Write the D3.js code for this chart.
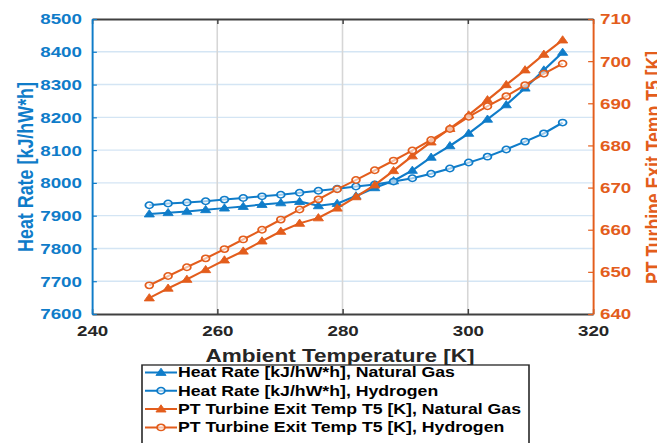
<!DOCTYPE html>
<html>
<head>
<meta charset="utf-8">
<script src="https://cdn.jsdelivr.net/npm/d3@7"></script>
<style>
  html, body { margin: 0; padding: 0; background: #fff; }
  svg { display: block; }
  text { font-family: "Liberation Sans", Arial, Helvetica, sans-serif; font-weight: bold; }
</style>
</head>
<body>
<div id="chart"></div>
<script>
// ---- data ----
const temperatures = [249.15, 252.15, 255.15, 258.15, 261.15, 264.15, 267.15, 270.15, 273.15, 276.15, 279.15, 282.15,
                      285.15, 288.15, 291.15, 294.15, 297.15, 300.15, 303.15, 306.15, 309.15, 312.15, 315.15];
const heatRateNG = [7905, 7909, 7913, 7918, 7923, 7928, 7934, 7939, 7943, 7930, 7937, 7960,
                    7985, 8006, 8038, 8078, 8113, 8151, 8194, 8238, 8289, 8344, 8398];
const heatRateH2 = [7932, 7937, 7940, 7944, 7949, 7954, 7959, 7964, 7970, 7976, 7982, 7989,
                    7995, 8004, 8014, 8028, 8044, 8062, 8080, 8102, 8126, 8151, 8184];
const t5NG = [643.8, 646.1, 648.2, 650.5, 652.8, 654.9, 657.3, 659.6, 661.5, 662.8, 665.1, 667.8,
              670.6, 674.0, 677.5, 680.8, 684.0, 687.2, 690.8, 694.4, 697.9, 701.6, 705.0];
const t5H2 = [646.8, 649.0, 651.1, 653.2, 655.4, 657.7, 660.0, 662.4, 664.8, 667.2, 669.6, 671.8,
              674.1, 676.4, 678.8, 681.3, 683.9, 686.8, 689.3, 691.7, 694.3, 697.0, 699.4];
const xTicks = [240, 260, 280, 300, 320];
const yLeftTicks = [7600, 7700, 7800, 7900, 8000, 8100, 8200, 8300, 8400, 8500];
const yRightTicks = [640, 650, 660, 670, 680, 690, 700, 710];
const seriesNames = ["Heat Rate [kJ/hW*h], Natural Gas", "Heat Rate [kJ/hW*h], Hydrogen",
                     "PT Turbine Exit Temp T5 [K], Natural Gas", "PT Turbine Exit Temp T5 [K], Hydrogen"];

// ---- layout (image is horizontally stretched) ----
const SX = 1.22;
const W = 671, H = 443;
const DW = W / SX;
const X = p => p / SX; // pixel -> design x
const BLUE = "#0f7cc9", ORANGE = "#e35d1c", DARK = "#404040";
const fmt = d3.format("d");

const svg = d3.select("#chart").append("svg")
  .attr("width", W).attr("height", H)
  .attr("viewBox", `0 0 ${DW} ${H}`)
  .attr("preserveAspectRatio", "none");

const plotTop = 19, plotBottom = 314;
const x = d3.scaleLinear().domain([240, 320]).range([X(92), X(593)]);
const yL = d3.scaleLinear().domain([7600, 8500]).range([plotBottom, plotTop]);
const yR = d3.scaleLinear().domain([640, 710]).range([plotBottom, plotTop]);

// grid
svg.append("g").selectAll("line").data(yLeftTicks.slice(1, -1)).join("line")
  .attr("x1", x(240)).attr("x2", x(320)).attr("y1", d => yL(d)).attr("y2", d => yL(d))
  .attr("stroke", "#d4e5f4").attr("stroke-width", 1.4);
svg.append("g").selectAll("line").data(xTicks.slice(1, -1)).join("line")
  .attr("x1", d => x(d)).attr("x2", d => x(d)).attr("y1", plotTop).attr("y2", plotBottom)
  .attr("stroke", "#d6d6d6").attr("stroke-width", 1.3);

// axes
const gB = svg.append("g").attr("transform", `translate(0,${plotBottom})`)
  .call(d3.axisBottom(x).tickValues(xTicks).tickFormat(fmt).tickSizeInner(-5).tickSizeOuter(0).tickPadding(11));
gB.select(".domain").attr("stroke", DARK).attr("stroke-width", 1.8);
gB.selectAll(".tick line").attr("stroke", DARK).attr("stroke-width", 1.2);
gB.selectAll(".tick text").attr("fill", "#262626").attr("font-size", 15.4).attr("font-family", null);

const gT = svg.append("g").attr("transform", `translate(0,${plotTop})`)
  .call(d3.axisTop(x).tickValues(xTicks).tickSizeInner(-5).tickSizeOuter(0).tickFormat(""));
gT.select(".domain").attr("stroke", DARK).attr("stroke-width", 1.8);
gT.selectAll(".tick line").attr("stroke", DARK).attr("stroke-width", 1.2);

const gL = svg.append("g").attr("transform", `translate(${x(240)},0)`)
  .call(d3.axisLeft(yL).tickValues(yLeftTicks).tickFormat(fmt).tickSizeInner(-4).tickSizeOuter(0).tickPadding(X(10)));
gL.select(".domain").attr("stroke", BLUE).attr("stroke-width", 1.6);
gL.selectAll(".tick line").attr("stroke", BLUE).attr("stroke-width", 1.2);
gL.selectAll(".tick text").attr("fill", BLUE).attr("font-size", 15.4).attr("font-family", null);

const gR = svg.append("g").attr("transform", `translate(${x(320)},0)`)
  .call(d3.axisRight(yR).tickValues(yRightTicks).tickFormat(fmt).tickSizeInner(-4).tickSizeOuter(0).tickPadding(X(7)));
gR.select(".domain").attr("stroke", ORANGE).attr("stroke-width", 1.6);
gR.selectAll(".tick line").attr("stroke", ORANGE).attr("stroke-width", 1.2);
gR.selectAll(".tick text").attr("fill", ORANGE).attr("font-size", 15.4).attr("font-family", null);

// axis titles
svg.append("text").attr("x", X(340)).attr("y", 362).attr("text-anchor", "middle")
  .attr("font-size", 18.5).attr("fill", "#262626").text("Ambient Temperature [K]");
svg.append("text").attr("transform", `translate(${X(32.5)},167) rotate(-90)`).attr("text-anchor", "middle")
  .attr("font-size", 17.9).attr("fill", BLUE).text("Heat Rate [kJ/hW*h]");
svg.append("clipPath").attr("id", "rclip").append("rect")
  .attr("x", X(600)).attr("y", 0).attr("width", X(657) - X(600)).attr("height", H);
svg.append("g").attr("clip-path", "url(#rclip)")
  .append("text")
  .attr("transform", `translate(${X(660.5)},167.5) rotate(-90)`).attr("text-anchor", "middle")
  .attr("font-size", 17.6).attr("fill", ORANGE).text("PT Turbine Exit Temp T5 [K]");

// series
const series = [
  { vals: heatRateNG, y: yL, color: BLUE, marker: "tri" },
  { vals: heatRateH2, y: yL, color: BLUE, marker: "circ" },
  { vals: t5NG, y: yR, color: ORANGE, marker: "tri" },
  { vals: t5H2, y: yR, color: ORANGE, marker: "circ" }
];
const tri = d3.symbol().type(d3.symbolTriangle).size(30);

function drawMarker(g, m, color) {
  if (m === "tri") {
    g.append("path").attr("d", tri).attr("fill", color).attr("stroke", color).attr("stroke-width", 0.8)
      .attr("transform", "translate(0,0.5)");
  } else {
    g.append("circle").attr("r", 3.2).attr("fill", "#fff").attr("fill-opacity", 0.6)
      .attr("stroke", color).attr("stroke-width", 1.5);
  }
}

series.forEach(s => {
  const pts = temperatures.map((t, i) => [x(t), s.y(s.vals[i])]);
  svg.append("path").datum(pts).attr("d", d3.line()).attr("fill", "none")
    .attr("stroke", s.color).attr("stroke-width", 2).attr("stroke-linejoin", "round");
  pts.forEach(p => {
    const g = svg.append("g").attr("transform", `translate(${p[0]},${p[1]})`);
    drawMarker(g, s.marker, s.color);
  });
});

// legend
const lg = svg.append("g");
lg.append("rect").attr("x", X(142)).attr("y", 365).attr("width", X(529) - X(142)).attr("height", 100)
  .attr("fill", "#fff").attr("stroke", "#262626").attr("stroke-width", 1.3);
seriesNames.forEach((name, i) => {
  const cy = 372.5 + i * 18.3;
  const s = series[i];
  lg.append("line").attr("x1", X(145)).attr("x2", X(177)).attr("y1", cy).attr("y2", cy)
    .attr("stroke", s.color).attr("stroke-width", 2);
  const g = lg.append("g").attr("transform", `translate(${X(161)},${cy})`);
  drawMarker(g, s.marker, s.color);
  lg.append("text").attr("x", X(178)).attr("y", cy + 5).attr("font-size", 14.5).attr("fill", "#000").text(name);
});
</script>
</body>
</html>
